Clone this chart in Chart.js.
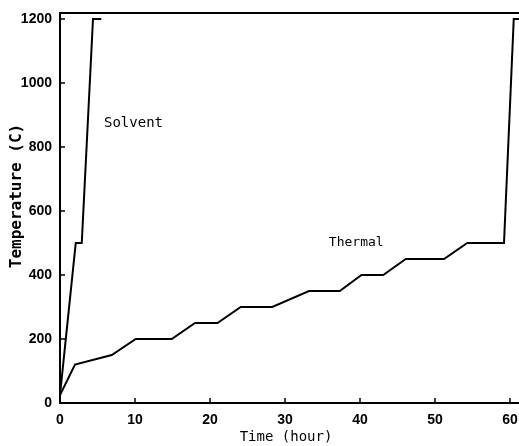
<!DOCTYPE html>
<html><head><meta charset="utf-8">
<script src="https://cdn.jsdelivr.net/npm/chart.js@4/dist/chart.umd.min.js"></script>
<style>html,body{margin:0;padding:0;background:#fff;}#wrap{width:519px;height:446px;}</style>
</head><body><div id="wrap"><canvas id="c" width="519" height="446"></canvas></div>
<script>
const solventHours = [0, 2.1, 2.9, 4.4, 5.5];
const solventTemp  = [25, 500, 500, 1200, 1200];
const thermalHours = [0, 2, 6.9, 10.1, 14.9, 18, 21, 24.1, 28.3, 33.2, 37.3, 40.2, 43.1, 46.1, 51.2, 54.3, 59.2, 60.5, 61.2];
const thermalTemp  = [25, 120, 150, 200, 200, 250, 250, 300, 300, 350, 350, 400, 400, 450, 450, 500, 500, 1200, 1200];
const xTickValues = [0, 10, 20, 30, 40, 50, 60];
const yTickValues = [0, 200, 400, 600, 800, 1000, 1200];
const seriesLabels = ['Solvent', 'Thermal'];
const xTitle = 'Time (hour)';
const yTitle = 'Temperature (C)';

const tickFont = {family: 'Liberation Sans, sans-serif', size: 14, weight: 'bold'};
const textFont = '"DejaVu Sans Mono", monospace';

const decor = {
  id: 'decor',
  afterDraw(chart) {
    const {ctx, chartArea: a, scales: {x, y}} = chart;
    ctx.save();
    ctx.strokeStyle = '#000';
    ctx.lineWidth = 2;
    ctx.beginPath(); ctx.moveTo(a.left - 1, a.top); ctx.lineTo(a.right, a.top); ctx.stroke();
    ctx.lineWidth = 1.5;
    xTickValues.forEach(v => { const px = x.getPixelForValue(v); ctx.beginPath(); ctx.moveTo(px, a.bottom); ctx.lineTo(px, a.bottom - 5); ctx.stroke(); });
    yTickValues.forEach(v => { const py = y.getPixelForValue(v); ctx.beginPath(); ctx.moveTo(a.left, py); ctx.lineTo(a.left + 5, py); ctx.stroke(); });
    ctx.fillStyle = '#000';
    ctx.textAlign = 'center'; ctx.textBaseline = 'middle';
    ctx.font = '14px ' + textFont;
    ctx.fillText(seriesLabels[0], x.getPixelForValue(9.8), y.getPixelForValue(875));
    ctx.font = '13px ' + textFont;
    ctx.fillText(seriesLabels[1], x.getPixelForValue(39.5), y.getPixelForValue(500));
    ctx.font = '14px ' + textFont;
    ctx.fillText(xTitle, 286, 437);
    ctx.save();
    ctx.translate(17, 196);
    ctx.rotate(-Math.PI / 2);
    ctx.font = 'bold 16px ' + textFont;
    ctx.fillText(yTitle, 0, 0);
    ctx.restore();
    ctx.restore();
  }
};

new Chart(document.getElementById('c'), {
  type: 'line',
  data: {
    datasets: [
      {label: seriesLabels[0], data: solventHours.map((h, i) => ({x: h, y: solventTemp[i]})), borderColor: '#000', borderWidth: 2, pointRadius: 0, tension: 0, fill: false},
      {label: seriesLabels[1], data: thermalHours.map((h, i) => ({x: h, y: thermalTemp[i]})), borderColor: '#000', borderWidth: 2, pointRadius: 0, tension: 0, fill: false}
    ]
  },
  options: {
    responsive: false,
    animation: false,
    layout: {padding: {top: 13, right: 0, left: 0, bottom: 0}},
    plugins: {legend: {display: false}, tooltip: {enabled: false}},
    scales: {
      x: {
        type: 'linear', min: 0, max: 61.2,
        afterBuildTicks: s => { s.ticks = xTickValues.map(v => ({value: v})); },
        afterFit: s => { s.height = 43; s.paddingLeft = 0; s.paddingRight = 0; },
        grid: {display: false, drawTicks: false},
        border: {display: true, color: '#000', width: 2},
        ticks: {color: '#000', font: tickFont, padding: 9, maxRotation: 0, callback: v => String(v)}
      },
      y: {
        type: 'linear', min: 0, max: 1218.75,
        afterBuildTicks: s => { s.ticks = yTickValues.map(v => ({value: v})); },
        afterFit: s => { s.width = 60; s.paddingTop = 0; s.paddingBottom = 0; },
        grid: {display: false, drawTicks: false},
        border: {display: true, color: '#000', width: 2},
        ticks: {color: '#000', font: tickFont, padding: 8, callback: v => String(v)}
      }
    }
  },
  plugins: [decor]
});
</script>
</body></html>
